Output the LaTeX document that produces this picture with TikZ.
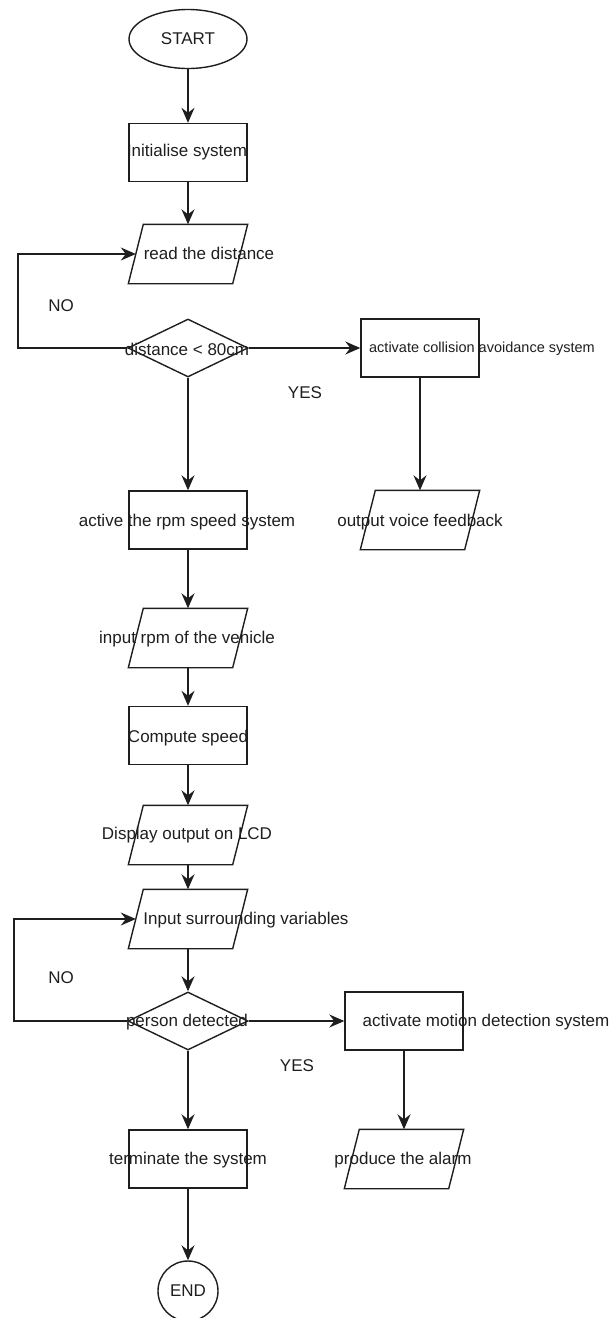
\documentclass[tikz,border=0pt]{standalone}
\usepackage{fontspec}
\setmainfont{Liberation Sans}
\usetikzlibrary{shapes.geometric,arrows.meta}
\definecolor{ink}{HTML}{1E1E1E}
\newcommand\drawpara[1]{\draw ([xshift=15pt]#1.north west) -- (#1.north east) -- ([xshift=-15pt]#1.south east) -- (#1.south west) -- cycle;}
\begin{document}
\begin{tikzpicture}[x=1pt,y=-1pt, line width=1.4pt, color=ink,
  box/.style={draw, rectangle, minimum width=118pt, minimum height=58pt, inner sep=0pt},
  para/.style={rectangle, minimum width=118pt, minimum height=58pt, inner sep=0pt},
  dec/.style={draw, diamond, minimum width=120pt, minimum height=58pt, inner sep=0pt},
  term/.style={draw, ellipse, minimum width=118pt, minimum height=59pt, inner sep=0pt, font=\fontsize{17}{20}\selectfont},
  txt/.style={inner sep=0pt, font=\fontsize{17}{20}\selectfont},
  smalltxt/.style={inner sep=0pt, font=\fontsize{14.5}{17}\selectfont},
  arr/.style={-{Stealth[length=15pt,width=13pt,inset=5pt]}}]
\useasboundingbox (0,0) rectangle (614,1318);

% shapes
\node[term] (start) at (188,39) {START};
\node[box] (init) at (188,152.5) {};
\node[para] (read) at (188,254) {};
\node[dec] (dec1) at (188,348) {};
\node[box] (coll) at (420,348) {};
\node[para] (voice) at (420,520) {};
\node[box] (rpm) at (188,520) {};
\node[para] (inrpm) at (188,638) {};
\node[box] (comp) at (188,735.5) {};
\node[para] (disp) at (188,835) {};
\node[para] (insur) at (188,919) {};
\node[dec] (dec2) at (188,1021) {};
\node[box] (motion) at (404,1021) {};
\node[para] (alarm) at (404,1159) {};
\node[box] (termin) at (188,1159) {};
\node[draw, circle, minimum size=60pt, inner sep=0pt, font=\fontsize{17}{20}\selectfont] (end) at (188,1291) {END};

\drawpara{read}
\drawpara{voice}
\drawpara{inrpm}
\drawpara{disp}
\drawpara{insur}
\drawpara{alarm}

% texts
\node[txt] (tinit) at (187,152) {Initialise system};
\node[txt] (tread) at (209,253) {read the distance};
\node[txt] (no1) at (61,306) {NO};
\node[txt] (tdec1) at (187,349) {distance < 80cm};
\node[smalltxt] (tcoll) at (482,349) {activate collision avoidance system};
\node[txt] (yes1) at (305,393) {YES};
\node[txt] (trpm) at (187,522) {active the rpm speed system};
\node[txt] (tvoice) at (420,522) {output voice feedback};
\node[txt] (tinrpm) at (187,639) {input rpm of the vehicle};
\node[txt] (tcomp) at (188,738) {Compute speed};
\node[txt] (tdisp) at (187,835) {Display output on LCD};
\node[txt] (tinsur) at (246,920) {Input surrounding variables};
\node[txt] (no2) at (61,978) {NO};
\node[txt] (tdec2) at (187,1022) {person detected};
\node[txt] (tmotion) at (486,1022) {activate motion detection system};
\node[txt] (yes2) at (297,1066) {YES};
\node[txt] (tterm) at (188,1160) {terminate the system};
\node[txt] (talarm) at (403,1160) {produce the alarm};

% loop end points
\coordinate (l1) at (18,348);
\coordinate (l2) at (14,1021);

% connectors
\draw[arr] (start) -- (init);
\draw[arr] (init) -- (read.north);
\draw[arr] (dec1) -- (rpm);
\draw[arr] (dec1.east) -- (coll.west);
\draw[arr] (dec1.west) -- (l1) |- ([xshift=7.5pt]read.west);
\draw[arr] (coll) -- (voice.north);
\draw[arr] (rpm) -- (inrpm.north);
\draw[arr] (inrpm.south) -- (comp);
\draw[arr] (comp) -- (disp.north);
\draw[arr] (disp.south) -- (insur.north);
\draw[arr] (insur.south) -- (dec2);
\draw[arr] (dec2.east) -- (motion.west);
\draw[arr] (dec2.west) -- (l2) |- ([xshift=7.5pt]insur.west);
\draw[arr] (motion) -- (alarm.north);
\draw[arr] (dec2) -- (termin);
\draw[arr] (termin) -- (end);
\end{tikzpicture}
\end{document}
